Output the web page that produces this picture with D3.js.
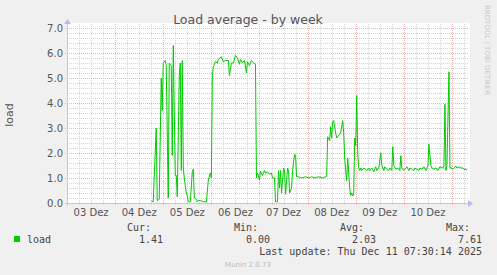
<!DOCTYPE html>
<html>
<head>
<meta charset="utf-8">
<script src="https://cdn.jsdelivr.net/npm/d3@7/dist/d3.min.js"></script>
<style>
  html, body { margin: 0; padding: 0; background: #f0f0f0; }
  svg { display: block; }
</style>
</head>
<body>
<div id="chart"></div>
<script>
// Hours since 03 Dez 00:00 and load values
const hours = [
  42, 43, 44.5, 45, 46, 47, 47.5, 48, 49, 49.5, 50.5, 51, 52, 52.5, 53, 54, 54.5, 55,
  56, 56.5, 57, 57.5, 58, 58.5, 59.5, 60, 60.5, 61.5, 62.5, 63, 63.5, 64.5, 65, 65.5,
  66.5, 68, 69.5, 70.5, 71.5, 72, 72.5, 73, 74, 75, 75.5, 77, 78, 79, 80.5, 81, 82, 83,
  84, 85, 86, 86.5, 87.5, 88.5, 89.5, 90, 91, 92, 93, 94, 94.5, 95, 96, 96.5, 97.5,
  98.5, 99, 100, 101, 102, 102.5, 103.5, 104, 105, 105.5, 106, 106.5, 107, 108, 108.5,
  109, 110, 110.5, 111, 112, 112.5, 113.5, 114, 114.5, 115.5, 117, 119, 120.5, 122,
  123.5, 125.5, 127.5, 129, 129.5, 130, 131, 131.5, 132, 132.5, 133, 134, 134.5, 135.5,
  136.5, 137.5, 138, 138.5, 139, 139.5, 140, 141, 141.5, 142, 142.5, 143, 143.5, 144,
  144.5, 145, 145.5, 146, 146.5, 147, 148, 149, 149.5, 150.5, 151, 152, 153, 154, 154.5,
  155.5, 156.5, 157, 158, 158.5, 159.5, 160.5, 161, 162, 162.5, 163, 164, 165, 166,
  166.5, 167, 168, 168.5, 169.5, 170.5, 171, 172, 173, 173.5, 174.5, 175.5, 176, 177,
  178, 179, 180, 180.5, 181.5, 182, 183, 184, 185, 186, 187.5, 188, 188.5, 189, 189.5,
  190.5, 191, 192, 192.5, 194, 194.5, 195.5, 196.5, 197.5, 198, 198.5, 199.5
];
const loadValues = [
  0.09, 0.05, 3.0, 0.1, 0.15, 5.0, 3.7, 5.6, 5.7, 5.5, 0.2, 5.6, 5.5, 1.9, 6.3, 1.1, 1.1, 0.25,
  5.1, 5.6, 1.3, 5.7, 1.4, 1.0, 0.4, 0.3, 0.05, 0.05, 1.25, 1.35, 0.2, 0.15, 0.05, 0.1,
  0.1, 0.05, 0.05, 0.92, 1.2, 1.0, 5.1, 5.45, 5.65, 5.6, 5.75, 5.85, 5.65, 5.7, 5.7, 5.1, 5.6, 5.6,
  5.9, 5.8, 5.55, 5.75, 5.6, 5.7, 5.2, 5.65, 5.5, 5.7, 5.6, 5.55, 1.0, 1.2, 0.92, 1.28, 1.1,
  1.3, 1.2, 1.25, 1.15, 1.2, 1.0, 1.0, 0.05, 0.05, 1.3, 0.6, 1.3, 0.4, 1.4, 1.3,
  0.35, 1.4, 1.3, 0.4, 0.6, 1.3, 1.95, 1.9, 1.05, 1.05, 1.0, 1.05, 1.0, 1.05,
  1.0, 1.05, 1.0, 1.05, 1.05, 2.65, 2.5, 3.05, 2.6, 3.25, 3.3, 2.8, 2.6, 2.7,
  2.8, 3.3, 2.8, 1.8, 1.3, 0.9, 1.8, 0.6, 0.3, 0.4, 0.28, 0.35, 2.6, 2.3,
  4.3, 2.0, 1.4, 1.3, 1.4, 1.3, 1.4, 1.35, 1.3, 1.4, 1.3, 1.4, 1.25, 1.45, 1.3,
  1.4, 2.0, 1.5, 1.3, 1.45, 1.35, 1.3, 1.4, 1.3, 2.25, 1.5, 1.35, 1.4, 1.3,
  1.89, 1.4, 1.3, 1.35, 1.45, 1.3, 1.4, 1.35, 1.3, 1.4, 1.35, 1.3, 1.4, 1.35,
  1.45, 1.3, 1.5, 2.35, 1.5, 1.4, 1.35, 1.4, 1.3, 1.45, 1.4, 1.5, 3.95, 1.3, 1.5,
  5.25, 1.4, 1.4, 1.35, 1.48, 1.4, 1.45, 1.4, 1.4, 1.35, 1.35, 1.32
];
const yTicks = [0, 1, 2, 3, 4, 5, 6, 7];
const dayLabels = ['03 Dez', '04 Dez', '05 Dez', '06 Dez', '07 Dez', '08 Dez', '09 Dez', '10 Dez'];
const legendHeads = ['Cur:', 'Min:', 'Avg:', 'Max:'];
const legendValues = ['1.41', '0.00', '2.03', '7.61'];

(function () {
  'use strict';

  const W = 497, H = 275;
  const pL = 67, pR = 467, pT = 28, pB = 203;
  const start = new Date(2025, 11, 3, 0, 0);
  const end = new Date(2025, 11, 11, 7, 30);
  const hourMs = 3600 * 1000;

  const data = hours.map((h, i) => ({ t: new Date(+start + h * hourMs), v: loadValues[i] }));

  const x = d3.scaleTime().domain([start, end]).range([pL, pR]);
  const y = d3.scaleLinear().domain([0, 7]).range([pB, pT]);

  const svg = d3.select('#chart').append('svg')
    .attr('width', W).attr('height', H)
    .style('font-family', '"DejaVu Sans", sans-serif');

  svg.append('rect').attr('width', W).attr('height', H).attr('fill', '#f0f0f0');
  svg.append('rect')
    .attr('x', pL).attr('y', pT - 5)
    .attr('width', pR - pL + 3).attr('height', pB - pT + 5)
    .attr('fill', '#ffffff');

  const grid = svg.append('g');
  const minorColor = '#d4d4d4';
  const majorColor = '#e8b4b4';

  // Minor grid: every 0.2 load and every 6 hours
  const minorY = d3.range(0, 7.01, 0.2).filter(v => Math.abs(v - Math.round(v)) > 0.01);
  grid.append('g').selectAll('line')
    .data(minorY).join('line')
    .attr('x1', pL).attr('x2', pR + 2)
    .attr('y1', d => Math.round(y(d)) + 0.5).attr('y2', d => Math.round(y(d)) + 0.5)
    .attr('stroke', minorColor).attr('stroke-dasharray', '1,1');

  // Day boundaries, then 6/12/18 h inside each day
  const days = d3.timeDay.range(start, end);
  const sixHours = days.flatMap(d => [6, 12, 18].map(h => d3.timeHour.offset(d, h)))
    .filter(d => d < end);
  grid.append('g').selectAll('line')
    .data(sixHours).join('line')
    .attr('x1', d => Math.round(x(d)) + 0.5).attr('x2', d => Math.round(x(d)) + 0.5)
    .attr('y1', pT - 4).attr('y2', pB + 3)
    .attr('stroke', minorColor).attr('stroke-dasharray', '1,1');

  // Major grid: integer loads and midnights
  grid.append('g').selectAll('line')
    .data(yTicks.slice(1)).join('line')
    .attr('x1', pL - 2).attr('x2', pR + 2)
    .attr('y1', d => Math.round(y(d)) + 0.5).attr('y2', d => Math.round(y(d)) + 0.5)
    .attr('stroke', majorColor).attr('stroke-dasharray', '1,1');

  grid.append('g').selectAll('line')
    .data(days.slice(1)).join('line')
    .attr('x1', d => Math.round(x(d)) + 0.5).attr('x2', d => Math.round(x(d)) + 0.5)
    .attr('y1', pT - 4).attr('y2', pB + 3)
    .attr('stroke', majorColor).attr('stroke-dasharray', '1,1');

  // Axis lines with arrows
  const axisColor = '#c4c4ee';
  grid.append('line')
    .attr('x1', pL - 2).attr('x2', pR + 2)
    .attr('y1', pB + 0.5).attr('y2', pB + 0.5)
    .attr('stroke', axisColor);
  grid.append('line')
    .attr('x1', pL + 0.5).attr('x2', pL + 0.5)
    .attr('y1', pT - 4).attr('y2', pB + 3)
    .attr('stroke', axisColor);
  svg.append('path')
    .attr('d', `M${pR + 1},${pB - 3} L${pR + 6},${pB + 0.5} L${pR + 1},${pB + 4} Z`)
    .attr('fill', '#b4bcf2');
  svg.append('path')
    .attr('d', `M${pL - 3},${pT - 4} L${pL + 0.5},${pT - 9} L${pL + 4},${pT - 4} Z`)
    .attr('fill', '#b4bcf2');

  // Y tick labels
  svg.append('g').selectAll('text')
    .data(yTicks).join('text')
    .attr('x', pL - 4).attr('y', d => y(d) + 4)
    .attr('text-anchor', 'end')
    .attr('font-size', 10).attr('fill', '#555')
    .text(d => d.toFixed(1));

  // Day labels at noon
  const noons = dayLabels.map((_, i) => d3.timeHour.offset(start, 12 + 24 * i));
  svg.append('g').selectAll('text')
    .data(dayLabels).join('text')
    .attr('x', (d, i) => x(noons[i])).attr('y', pB + 13)
    .attr('text-anchor', 'middle')
    .attr('font-size', 10).attr('fill', '#555')
    .text(d => d);

  // Load line
  const line = d3.line().x(d => x(d.t)).y(d => y(d.v));
  svg.append('path')
    .datum(data)
    .attr('d', line)
    .attr('fill', 'none')
    .attr('stroke', '#00cc00')
    .attr('stroke-width', 1);

  // Title and side labels
  svg.append('text')
    .attr('x', 248).attr('y', 24)
    .attr('text-anchor', 'middle')
    .attr('font-size', 12.5).attr('fill', '#555')
    .text('Load average - by week');

  svg.append('text')
    .attr('transform', 'translate(13,115) rotate(-90)')
    .attr('text-anchor', 'middle')
    .attr('font-size', 11).attr('fill', '#555')
    .text('load');

  svg.append('text')
    .attr('transform', 'translate(485,5) rotate(90)')
    .attr('font-size', 7).attr('fill', '#c8c8c8')
    .text('RRDTOOL / TOBI OETIKER');

  // Legend
  const mono = '"DejaVu Sans Mono", monospace';
  svg.append('rect')
    .attr('x', 14).attr('y', 236).attr('width', 6).attr('height', 6)
    .attr('fill', '#00cc00');
  svg.append('text')
    .attr('x', 27).attr('y', 243)
    .attr('font-family', mono).attr('font-size', 10).attr('fill', '#444')
    .text('load');

  const colEnds = [163, 270, 376, 482];
  svg.append('g').selectAll('text')
    .data(legendHeads).join('text')
    .attr('x', (d, i) => colEnds[i] - 12).attr('y', 231)
    .attr('text-anchor', 'end')
    .attr('font-family', mono).attr('font-size', 10).attr('fill', '#444')
    .text(d => d);
  svg.append('g').selectAll('text')
    .data(legendValues).join('text')
    .attr('x', (d, i) => colEnds[i]).attr('y', 243)
    .attr('text-anchor', 'end')
    .attr('font-family', mono).attr('font-size', 10).attr('fill', '#444')
    .text(d => d);

  svg.append('text')
    .attr('x', 482).attr('y', 255)
    .attr('text-anchor', 'end')
    .attr('font-family', mono).attr('font-size', 10).attr('fill', '#444')
    .text('Last update: Thu Dec 11 07:30:14 2025');

  svg.append('text')
    .attr('x', 248).attr('y', 267)
    .attr('text-anchor', 'middle')
    .attr('font-size', 7).attr('fill', '#bbb')
    .text('Munin 2.0.73');
})();
</script>
</body>
</html>
